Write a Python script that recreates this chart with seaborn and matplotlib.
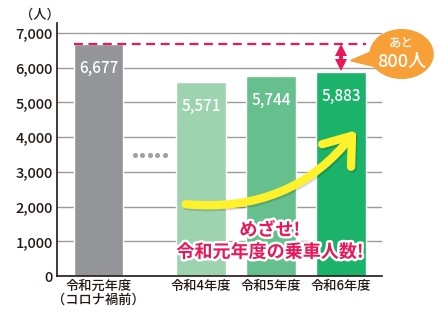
import matplotlib
matplotlib.use("Agg")
import matplotlib.pyplot as plt
import seaborn as sns
import pandas as pd
import numpy as np
from matplotlib.patches import FancyArrowPatch, Ellipse, Polygon
import matplotlib.patheffects as pe

# ---- data ----
categories = ["令和元年度\n（コロナ禍前）", "令和4年度", "令和5年度", "令和6年度"]
riders = [6677, 5571, 5744, 5883]
value_labels = ["6,677", "5,571", "5,744", "5,883"]
yticks = [0, 1000, 2000, 3000, 4000, 5000, 6000, 7000]
ytick_labels = ["0", "1,000", "2,000", "3,000", "4,000", "5,000", "6,000", "7,000"]
bar_colors = ["#939598", "#9dd3ae", "#66c08d", "#1bb26a"]

# layout (slot positions: a skipped gap between first and remaining bars)
positions = [0.0, 1.464, 2.464, 3.464]

sns.set_theme(style="white")
plt.rcParams['font.family'] = ['Noto Sans CJK JP', 'DejaVu Sans']

fig = plt.figure(figsize=(4.38, 3.16), dpi=100)
ax = fig.add_axes([57/438, 40/316, (382-57)/438, (276-23)/316])

df = pd.DataFrame({"pos": positions, "riders": riders, "cat": categories})
sns.barplot(data=df, x="pos", y="riders", hue="cat", palette=bar_colors,
            native_scale=True, width=0.714, dodge=False, legend=False,
            saturation=1, ax=ax, zorder=2)

ax.set_xlim(-0.593, 4.05)
ax.set_ylim(0, 7281)
ax.set_yticks(yticks)
ax.set_yticklabels(ytick_labels, fontsize=10.5, color="#231815", fontweight="medium")
ax.set_xticks(positions)
ax.set_xticklabels(categories, fontsize=9.5, color="#231815", linespacing=1.0,
                   fontweight="medium")
ax.tick_params(axis="both", length=0, pad=3)
ax.tick_params(axis="x", pad=2)
ax.set_xlabel("")
ax.set_ylabel("")
ax.yaxis.grid(True, color="#9a9a9a", linewidth=1)
ax.set_axisbelow(True)
for s in ["top", "right"]:
    ax.spines[s].set_visible(False)
for s in ["left", "bottom"]:
    ax.spines[s].set_color("#231815")
    ax.spines[s].set_linewidth(1.2)

fig.text(39.5/438, 1 - 15/316, "（人）", ha="center", va="center",
         fontsize=9.5, color="#231815", fontweight="medium")

# value labels
for p, v, lab in zip(positions, riders, value_labels):
    ax.text(p, v - 700, lab, ha="center", va="center", color="white", fontsize=11,
            fontweight="medium", zorder=3)

# dashed target line
hw = 0.357
ax.plot([positions[0] - hw, positions[-1] + hw], [riders[0], riders[0]],
        color="#e8185a", lw=1.6, ls=(0, (4, 2.5)), zorder=4)

# double arrow showing the gap
ax.plot([positions[-1], positions[-1]], [riders[-1] + 150, riders[0] - 150],
        color="#e8185a", lw=2.8, solid_capstyle="butt", zorder=5)
ax.plot(positions[-1], riders[0] - 180, marker="^", color="#e8185a", ms=9, mew=0, zorder=5)
ax.plot(positions[-1], riders[-1] + 180, marker="v", color="#e8185a", ms=9, mew=0, zorder=5)

# orange bubble
bx, by = 4.33, 6388
ax.add_patch(Polygon([[3.95, 6500], [3.60, 6200], [4.0, 6000]], closed=True,
                     color="#f7a038", clip_on=False, zorder=5))
ax.add_patch(Ellipse((bx, by), 0.9, 1400, color="#f7a038", clip_on=False, zorder=5))
ax.text(bx, by + 320, "あと", ha="center", va="center", color="white", fontsize=9,
        fontweight="medium", zorder=6, clip_on=False)
ax.text(bx, by - 240, "800人", ha="center", va="center", color="white", fontsize=13,
        fontweight="medium", zorder=6, clip_on=False)

# dots between first bar and rest
gap_mid = (positions[0] + positions[1]) / 2
for k in range(-2, 3):
    ax.plot(gap_mid + k * 0.107, 3482, "o", color="#a0a0a0", ms=2.6, zorder=3)

# yellow rising arrow
shadow = FancyArrowPatch((1.227, 2020), (3.727, 4207),
                         connectionstyle="arc3,rad=0.28",
                         arrowstyle="->,head_length=1.5,head_width=1.1",
                         mutation_scale=12, color="#000000", alpha=0.15, lw=6,
                         capstyle="round", joinstyle="round", zorder=6)
ax.add_patch(shadow)
arrow = FancyArrowPatch((1.207, 2072), (3.707, 4259),
                        connectionstyle="arc3,rad=0.28",
                        arrowstyle="->,head_length=1.5,head_width=1.1",
                        mutation_scale=12, color="#fff22a", lw=6,
                        capstyle="round", joinstyle="round", zorder=6)
ax.add_patch(arrow)

# message
stroke = [pe.withStroke(linewidth=3.5, foreground="white")]
ax.text(2.446, 1324, "めざせ!", ha="center", va="center", color="#e8185a",
        fontsize=13, fontweight="bold", path_effects=stroke, zorder=7)
ax.text(2.446, 690, "令和元年度の乗車人数!", ha="center", va="center", color="#e8185a",
        fontsize=13, fontweight="bold", path_effects=stroke, zorder=7)

fig.savefig("out.png", dpi=100)
